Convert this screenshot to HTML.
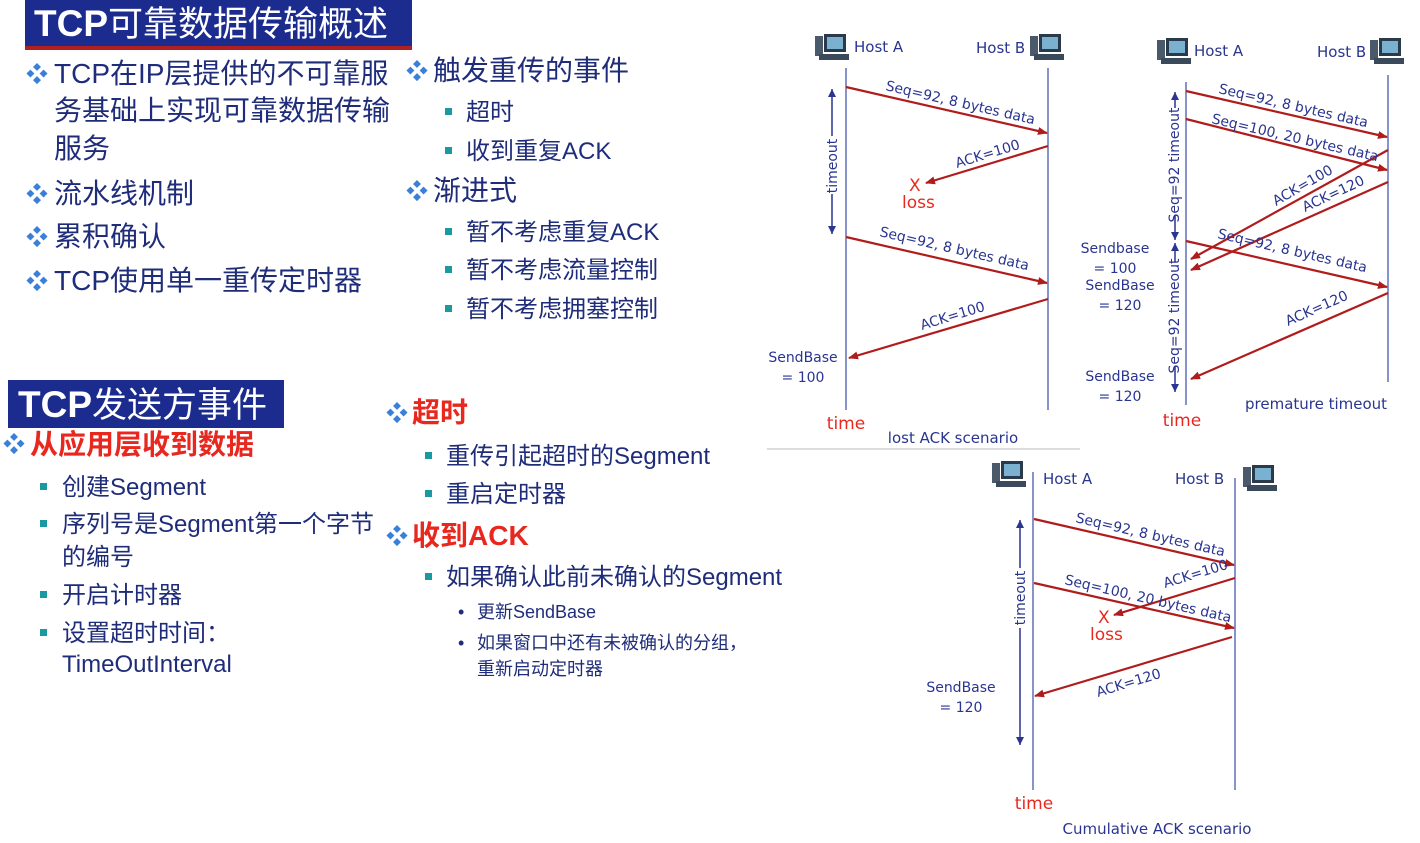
<!DOCTYPE html>
<html><head><meta charset="utf-8"><style>
html,body{margin:0;padding:0;background:#fff;}
svg{display:block;}
.t{font-family:"Liberation Sans","Noto Sans CJK SC",sans-serif;}
.b{fill:#1f2c7a;font-size:28px;}
.s{fill:#1f2c7a;font-size:24px;}
.xs{fill:#1f2c7a;font-size:18px;}
.r{fill:#e8281e;font-size:28px;font-weight:bold;}
.d{fill:#3a80d8;font-size:22px;}
.q{fill:#1a9aa0;}
.dl{font-family:"DejaVu Sans",sans-serif;fill:#2a3590;font-size:14px;}
.hl{font-family:"DejaVu Sans",sans-serif;fill:#2a3590;font-size:15px;}
.rd{font-family:"DejaVu Sans",sans-serif;fill:#e8281e;font-size:17px;}
.ln{stroke:#6a78bc;stroke-width:1.6;}
.ar{stroke:#b01c1c;stroke-width:2.2;marker-end:url(#ah);}
.tb{stroke:#2a3590;stroke-width:1.5;marker-start:url(#bh);marker-end:url(#bh);}
</style></head><body>
<svg width="1420" height="843" viewBox="0 0 1420 843" xmlns="http://www.w3.org/2000/svg">
<defs>
<marker id="ah" markerWidth="10" markerHeight="8" refX="9" refY="4" orient="auto" markerUnits="userSpaceOnUse"><path d="M0,0 L10,4 L0,8 z" fill="#b01c1c"/></marker>
<marker id="bh" markerWidth="8" markerHeight="8" refX="8" refY="4" orient="auto-start-reverse" markerUnits="userSpaceOnUse"><path d="M0,0 L8,4 L0,8 z" fill="#2a3590"/></marker>
<g id="pc"><rect x="0" y="2" width="8" height="20" fill="#4a5a6a"/><rect x="9" y="0" width="22" height="18" fill="#2a3a4a"/><rect x="12" y="3" width="16" height="12" fill="#7ab0d0"/><rect x="4" y="20" width="30" height="6" fill="#3a4a5a"/></g>
</defs>

<!-- Title 1 -->
<rect x="25" y="0" width="387" height="47" fill="#1c2c8e"/>
<rect x="25" y="46" width="387" height="4" fill="#b02020"/>
<text class="t" x="34" y="36" fill="#fff" font-size="37" font-weight="bold">TCP<tspan font-weight="normal" font-size="35">可靠数据传输概述</tspan></text>

<g class="t">
<text class="d" x="26" y="82">❖</text><text class="b" x="54" y="83">TCP在IP层提供的不可靠服</text>
<text class="b" x="54" y="120">务基础上实现可靠数据传输</text>
<text class="b" x="54" y="158">服务</text>
<text class="d" x="26" y="202">❖</text><text class="b" x="54" y="203">流水线机制</text>
<text class="d" x="26" y="245">❖</text><text class="b" x="54" y="246">累积确认</text>
<text class="d" x="26" y="289">❖</text><text class="b" x="54" y="290">TCP使用单一重传定时器</text>

<text class="d" x="406" y="79">❖</text><text class="b" x="433" y="80">触发重传的事件</text>
<rect class="q" x="445" y="108" width="7" height="7"/><text class="s" x="466" y="120">超时</text>
<rect class="q" x="445" y="147" width="7" height="7"/><text class="s" x="466" y="159">收到重复ACK</text>
<text class="d" x="406" y="199">❖</text><text class="b" x="433" y="200">渐进式</text>
<rect class="q" x="445" y="228" width="7" height="7"/><text class="s" x="466" y="240">暂不考虑重复ACK</text>
<rect class="q" x="445" y="266" width="7" height="7"/><text class="s" x="466" y="278">暂不考虑流量控制</text>
<rect class="q" x="445" y="305" width="7" height="7"/><text class="s" x="466" y="317">暂不考虑拥塞控制</text>
</g>

<!-- Title 2 -->
<rect x="8" y="380" width="276" height="48" fill="#1c2c8e"/>
<text class="t" x="18" y="417" fill="#fff" font-size="37" font-weight="bold">TCP<tspan font-weight="normal" font-size="35">发送方事件</tspan></text>

<g class="t">
<text class="d" x="3" y="452">❖</text><text class="r" x="30" y="454" font-weight="normal">从应用层收到数据</text>
<rect class="q" x="40" y="483" width="7" height="7"/><text class="s" x="62" y="495">创建Segment</text>
<rect class="q" x="40" y="520" width="7" height="7"/><text class="s" x="62" y="532">序列号是Segment第一个字节</text>
<text class="s" x="62" y="565">的编号</text>
<rect class="q" x="40" y="591" width="7" height="7"/><text class="s" x="62" y="603">开启计时器</text>
<rect class="q" x="40" y="629" width="7" height="7"/><text class="s" x="62" y="641">设置超时时间：</text>
<text class="s" x="62" y="672">TimeOutInterval</text>

<text class="d" x="386" y="421">❖</text><text class="r" x="412" y="422" font-weight="normal">超时</text>
<rect class="q" x="425" y="452" width="7" height="7"/><text class="s" x="446" y="464">重传引起超时的Segment</text>
<rect class="q" x="425" y="490" width="7" height="7"/><text class="s" x="446" y="502">重启定时器</text>
<text class="d" x="386" y="544">❖</text><text class="r" x="412" y="545">收到ACK</text>
<rect class="q" x="425" y="573" width="7" height="7"/><text class="s" x="446" y="585">如果确认此前未确认的Segment</text>
<text class="xs" x="458" y="618">•</text><text class="xs" x="477" y="618">更新SendBase</text>
<text class="xs" x="458" y="649">•</text><text class="xs" x="477" y="649">如果窗口中还有未被确认的分组，</text>
<text class="xs" x="477" y="675">重新启动定时器</text>
</g>

<!-- Diagram 1 -->
<line x1="767" y1="449" x2="1080" y2="449" stroke="#ddd" stroke-width="2"/>
<use href="#pc" x="815" y="34"/><use href="#pc" x="1030" y="34"/>
<text class="hl" x="854" y="52">Host A</text><text class="hl" x="976" y="53">Host B</text>
<line class="ln" x1="846" y1="68" x2="846" y2="410"/><line class="ln" x1="1048" y1="68" x2="1048" y2="410"/>
<line class="ar" x1="846" y1="87" x2="1047" y2="133"/>
<line class="ar" x1="1048" y1="146" x2="926" y2="183"/>
<line class="ar" x1="846" y1="237" x2="1047" y2="283"/>
<line class="ar" x1="1048" y1="299" x2="849" y2="358"/>
<text class="dl" x="885" y="90" transform="rotate(13 885 90)">Seq=92, 8 bytes data</text>
<text class="dl" x="957" y="168" transform="rotate(-17 957 168)">ACK=100</text>
<text class="rd" x="909" y="191" font-size="20">X</text><text class="rd" x="902" y="208">loss</text>
<text class="dl" x="879" y="236" transform="rotate(13 879 236)">Seq=92, 8 bytes data</text>
<text class="dl" x="922" y="330" transform="rotate(-17 922 330)">ACK=100</text>
<line class="tb" x1="832" y1="89" x2="832" y2="234"/>
<rect x="825" y="136" width="14" height="58" fill="#fff"/>
<text class="dl" x="837" y="166" text-anchor="middle" transform="rotate(-90 837 166)">timeout</text>
<text class="dl" x="803" y="362" text-anchor="middle">SendBase</text><text class="dl" x="803" y="382" text-anchor="middle">= 100</text>
<text class="rd" x="846" y="429" text-anchor="middle">time</text>
<text class="hl" x="953" y="443" text-anchor="middle" font-size="16">lost ACK scenario</text>

<!-- Diagram 2 -->
<use href="#pc" x="1157" y="38"/><use href="#pc" x="1370" y="38"/>
<text class="hl" x="1194" y="56">Host A</text><text class="hl" x="1317" y="57">Host B</text>
<line class="ln" x1="1186" y1="82" x2="1186" y2="405"/><line class="ln" x1="1388" y1="75" x2="1388" y2="382"/>
<line class="ar" x1="1186" y1="91" x2="1387" y2="137"/>
<line class="ar" x1="1186" y1="119" x2="1387" y2="170"/>
<line class="ar" x1="1388" y1="150" x2="1191" y2="259"/>
<line class="ar" x1="1388" y1="182" x2="1191" y2="270"/>
<line class="ar" x1="1186" y1="241" x2="1387" y2="287"/>
<line class="ar" x1="1388" y1="293" x2="1191" y2="379"/>
<text class="dl" x="1218" y="93" transform="rotate(13 1218 93)">Seq=92, 8 bytes data</text>
<text class="dl" x="1211" y="123" transform="rotate(13 1211 123)">Seq=100, 20 bytes data</text>
<text class="dl" x="1276" y="206" transform="rotate(-30 1276 206)">ACK=100</text>
<text class="dl" x="1305" y="212" transform="rotate(-25 1305 212)">ACK=120</text>
<text class="dl" x="1217" y="238" transform="rotate(13 1217 238)">Seq=92, 8 bytes data</text>
<text class="dl" x="1288" y="326" transform="rotate(-24 1288 326)">ACK=120</text>
<line class="tb" x1="1175" y1="92" x2="1175" y2="240"/>
<line class="tb" x1="1175" y1="243" x2="1175" y2="392"/>
<rect x="1167" y="108" width="14" height="108" fill="#fff"/><rect x="1167" y="262" width="14" height="104" fill="#fff"/>
<text class="dl" x="1179" y="165" text-anchor="middle" font-size="13" transform="rotate(-90 1179 165)">Seq=92 timeout</text>
<text class="dl" x="1179" y="316" text-anchor="middle" font-size="13" transform="rotate(-90 1179 316)">Seq=92 timeout</text>
<text class="dl" x="1115" y="253" text-anchor="middle">Sendbase</text><text class="dl" x="1115" y="273" text-anchor="middle">= 100</text>
<text class="dl" x="1120" y="290" text-anchor="middle">SendBase</text><text class="dl" x="1120" y="310" text-anchor="middle">= 120</text>
<text class="dl" x="1120" y="381" text-anchor="middle">SendBase</text><text class="dl" x="1120" y="401" text-anchor="middle">= 120</text>
<text class="rd" x="1182" y="426" text-anchor="middle">time</text>
<text class="hl" x="1245" y="409" font-size="16">premature timeout</text>

<!-- Diagram 3 -->
<use href="#pc" x="992" y="461"/><use href="#pc" x="1243" y="465"/>
<text class="hl" x="1043" y="484">Host A</text><text class="hl" x="1175" y="484">Host B</text>
<line class="ln" x1="1033" y1="472" x2="1033" y2="790"/><line class="ln" x1="1235" y1="478" x2="1235" y2="790"/>
<line class="ar" x1="1034" y1="519" x2="1234" y2="565"/>
<line class="ar" x1="1235" y1="578" x2="1114" y2="615"/>
<line class="ar" x1="1034" y1="583" x2="1234" y2="628"/>
<line class="ar" x1="1232" y1="637" x2="1035" y2="696"/>
<text class="dl" x="1075" y="522" transform="rotate(13 1075 522)">Seq=92, 8 bytes data</text>
<text class="dl" x="1165" y="588" transform="rotate(-17 1165 588)">ACK=100</text>
<text class="dl" x="1064" y="584" transform="rotate(13 1064 584)">Seq=100, 20 bytes data</text>
<text class="rd" x="1098" y="623" font-size="20">X</text><text class="rd" x="1090" y="640">loss</text>
<text class="dl" x="1098" y="697" transform="rotate(-17 1098 697)">ACK=120</text>
<line class="tb" x1="1020" y1="520" x2="1020" y2="745"/>
<rect x="1013" y="568" width="14" height="60" fill="#fff"/>
<text class="dl" x="1025" y="598" text-anchor="middle" transform="rotate(-90 1025 598)">timeout</text>
<text class="dl" x="961" y="692" text-anchor="middle">SendBase</text><text class="dl" x="961" y="712" text-anchor="middle">= 120</text>
<text class="rd" x="1034" y="809" text-anchor="middle">time</text>
<text class="hl" x="1157" y="834" text-anchor="middle" font-size="16">Cumulative ACK scenario</text>
</svg>
</body></html>
